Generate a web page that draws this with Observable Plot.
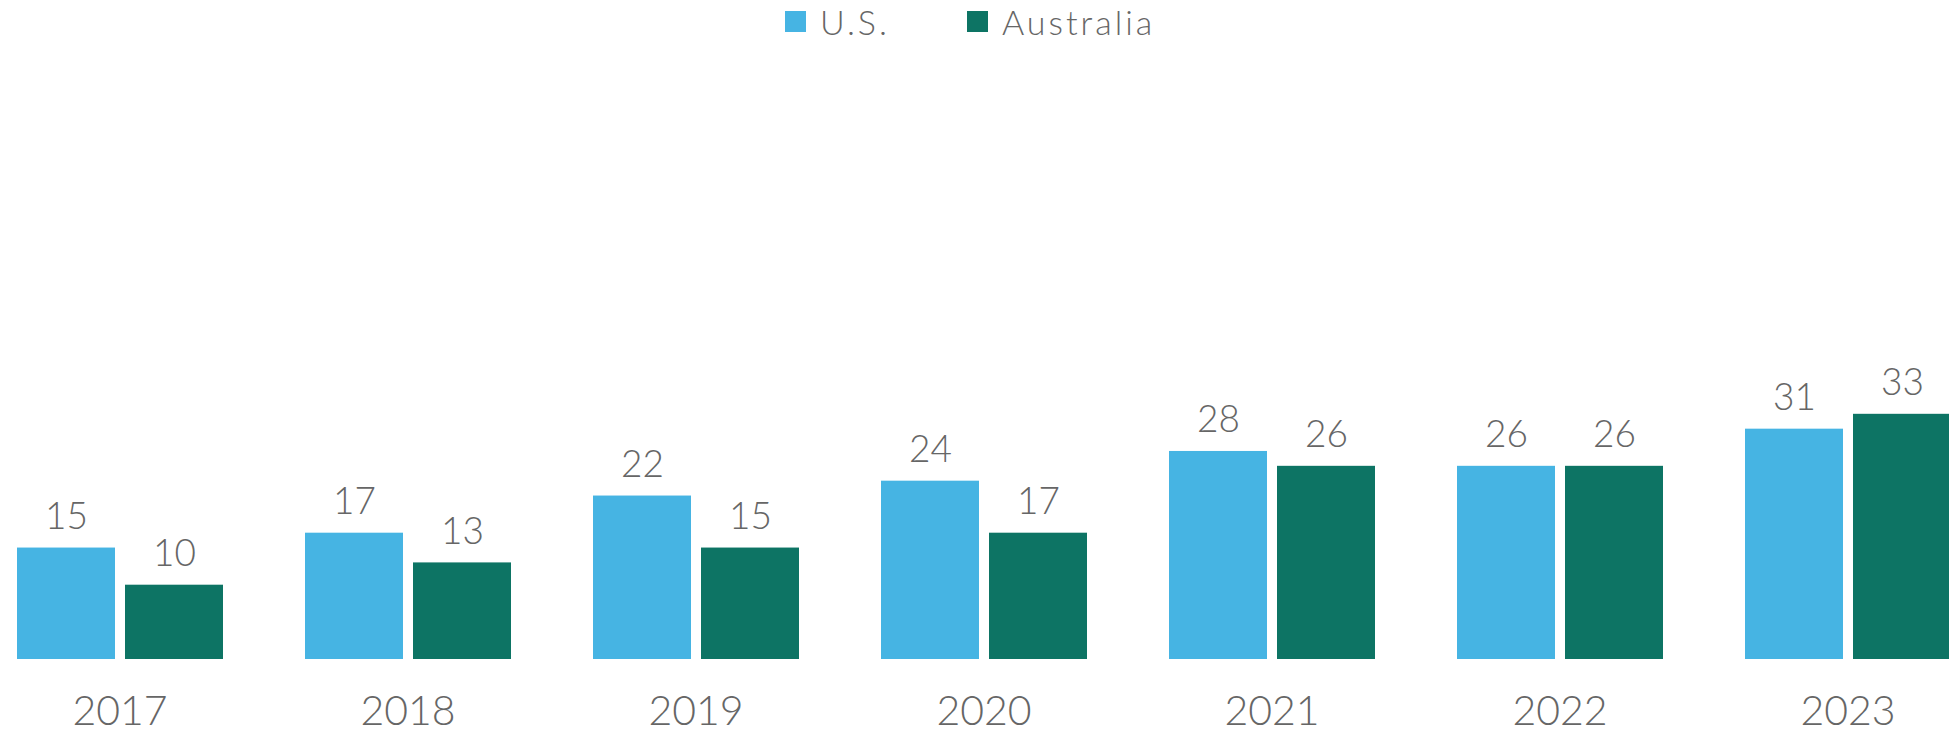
<!DOCTYPE html>
<html>
<head>
<meta charset="utf-8">
<script src="https://cdn.jsdelivr.net/npm/d3@7"></script>
<script src="https://cdn.jsdelivr.net/npm/@observablehq/plot@0.6"></script>
<style>
  html, body { margin: 0; padding: 0; background: #fff; overflow: hidden; }
  body { width: 1949px; height: 731px; font-family: Lato, "Open Sans", sans-serif; }
  #legend { height: 44px; position: relative; }
  .item { position: absolute; top: 0; display: flex; align-items: center; height: 43px; color: #666; font-size: 34px; font-weight: 300; letter-spacing: 3px; white-space: nowrap; }
  .sw { width: 21px; height: 21px; margin-right: 14px; }
  #chart svg { overflow: visible; }
</style>
</head>
<body>
<div id="legend"></div>
<div id="chart"></div>
<script>
const years = ["2017", "2018", "2019", "2020", "2021", "2022", "2023"];
const series = ["U.S.", "Australia"];
const usValues = [15, 17, 22, 24, 28, 26, 31];
const australiaValues = [10, 13, 15, 17, 26, 26, 33];
const colors = ["#46B4E3", "#0D7464"];

const data = [];
years.forEach((y, i) => {
  data.push({year: y, country: series[0], value: usValues[i]});
  data.push({year: y, country: series[1], value: australiaValues[i]});
});

const legendLefts = [785, 967];
const legend = document.getElementById("legend");
series.forEach((s, i) => {
  const it = document.createElement("div");
  it.className = "item";
  it.style.left = legendLefts[i] + "px";
  const sw = document.createElement("span");
  sw.className = "sw";
  sw.style.background = colors[i];
  it.appendChild(sw);
  it.appendChild(document.createTextNode(s));
  legend.appendChild(it);
});

const W = 1949, H = 687;
const base = 615, pxPerUnit = 7.43, yMax = 40;

const chart = Plot.plot({
  width: W,
  height: H,
  marginLeft: 0,
  marginRight: 0,
  marginTop: base - yMax * pxPerUnit,
  marginBottom: H - base,
  style: {fontFamily: "Lato, 'Open Sans', sans-serif", background: "#fff", overflow: "visible"},
  fx: {domain: years, range: [15.7, 1951.4], paddingInner: 0.28, paddingOuter: 0, label: null},
  x: {domain: series, paddingInner: 0.0935, paddingOuter: 0, axis: null},
  y: {domain: [0, yMax], axis: null},
  color: {domain: series, range: colors},
  marks: [
    Plot.axisFx({anchor: "bottom", tickSize: 0, tickPadding: 36, fontSize: 41, fontWeight: 300, fill: "#666", label: null}),
    Plot.barY(data, {fx: "year", x: "country", y: "value", fill: "country"}),
    Plot.text(data, {fx: "year", x: "country", y: "value", text: d => String(d.value), dy: -31, fontSize: 37, fontWeight: 300, fill: "#666"})
  ]
});
document.getElementById("chart").appendChild(chart);
</script>
</body>
</html>
